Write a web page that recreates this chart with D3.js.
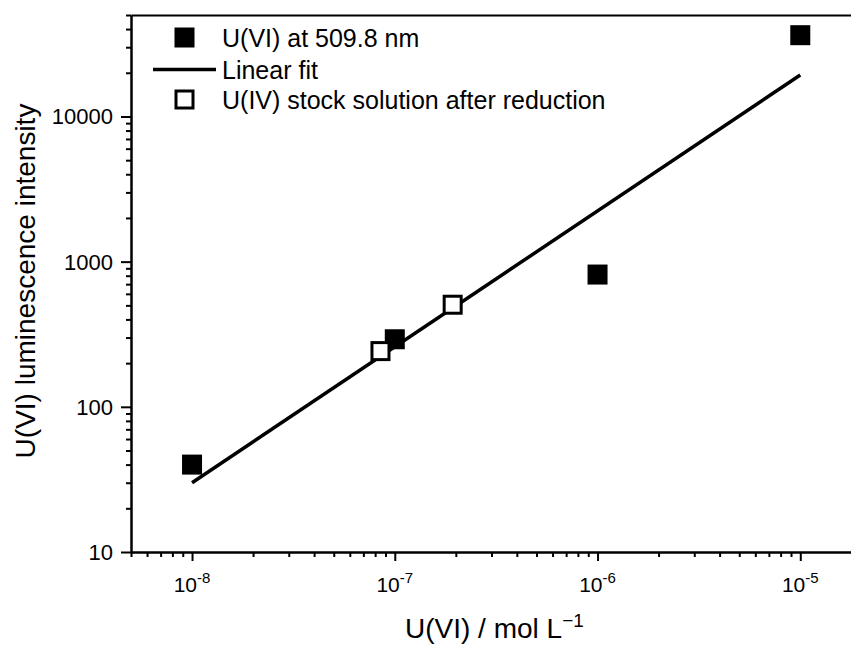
<!DOCTYPE html>
<html>
<head>
<meta charset="utf-8">
<script src="https://cdn.jsdelivr.net/npm/d3@7"></script>
<style>
  html, body { margin: 0; padding: 0; background: #fff; }
  svg { display: block; }
  text { font-family: "Liberation Sans", Arial, sans-serif; fill: #000; }
</style>
</head>
<body>
<svg id="chart" width="851" height="645"></svg>
<script>
// ---- Data ----
const filledX = [1e-8, 1e-7, 1e-6, 1e-5];
const filledY = [40, 292, 815, 36300];
const openX = [8.5e-8, 1.93e-7];
const openY = [242, 505];
const fitX = [1e-8, 1e-5];
const fitY = [30, 19300];
const xTickExps = [-8, -7, -6, -5];
const yTickValues = [10, 100, 1000, 10000];
const yTickLabels = ["10", "100", "1000", "10000"];
const legendLabels = ["U(VI) at 509.8 nm", "Linear fit", "U(IV) stock solution after reduction"];
const xTitle = "U(VI) / mol L";
const xTitleSup = "\u22121";
const yTitle = "U(VI) luminescence intensity";

(function () {
// ---- Layout ----
const svg = d3.select("#chart");
const pLeft = 131, pTop = 15, pBottom = 552, pRight = 942;
const x = d3.scaleLog().domain([5e-9, 5e-5]).range([pLeft, pRight]);
const y = d3.scaleLog().domain([10, 50000]).range([pBottom, pTop]);

// minor ticks
const xMinor = [];
for (let e = -9; e <= -5; e++) for (let m = 2; m <= 9; m++) {
  const v = m * Math.pow(10, e);
  if (v >= 5e-9 && v <= 5e-5) xMinor.push(v);
}
const yMinor = [];
for (let e = 1; e <= 4; e++) for (let m = 2; m <= 9; m++) {
  const v = m * Math.pow(10, e);
  if (v >= 10 && v <= 50000) yMinor.push(v);
}
const xMajor = xTickExps.map(e => Math.pow(10, e));

function styleAxis(g) {
  g.selectAll("path").attr("stroke", "#000").attr("stroke-width", 2);
  g.selectAll("line").attr("stroke", "#000").attr("stroke-width", 2);
  g.selectAll("text").remove();
}

// X axis
svg.append("g").attr("transform", `translate(0,${pBottom})`)
  .call(d3.axisBottom(x).tickValues(xMinor).tickSize(5).tickSizeOuter(0).tickFormat(""))
  .call(styleAxis);
svg.append("g").attr("transform", `translate(0,${pBottom})`)
  .call(d3.axisBottom(x).tickValues(xMajor).tickSize(9).tickSizeOuter(0).tickFormat(""))
  .call(styleAxis);

// Y axis
svg.append("g").attr("transform", `translate(${pLeft},0)`)
  .call(d3.axisLeft(y).tickValues(yMinor).tickSize(5).tickSizeOuter(0).tickFormat(""))
  .call(styleAxis);
svg.append("g").attr("transform", `translate(${pLeft},0)`)
  .call(d3.axisLeft(y).tickValues(yTickValues).tickSize(10).tickSizeOuter(0).tickFormat(""))
  .call(styleAxis);

// Top frame line
svg.append("g").attr("transform", `translate(0,${pTop})`)
  .call(d3.axisTop(x).tickValues([]).tickSizeOuter(0))
  .call(styleAxis);

// X tick labels
xTickExps.forEach(e => {
  const t = svg.append("text")
    .attr("x", x(Math.pow(10, e)))
    .attr("y", 592)
    .attr("text-anchor", "middle")
    .style("font-size", "21px");
  t.append("tspan").text("10");
  t.append("tspan").attr("dy", -9).style("font-size", "15px").text("-" + (-e));
});

// Y tick labels
yTickValues.forEach((v, i) => {
  svg.append("text")
    .attr("x", 113)
    .attr("y", y(v))
    .attr("dy", "0.36em")
    .attr("text-anchor", "end")
    .style("font-size", "22px")
    .text(yTickLabels[i]);
});

// Axis titles
const xt = svg.append("text")
  .attr("x", 405).attr("y", 638)
  .style("font-size", "28px");
xt.append("tspan").text(xTitle);
xt.append("tspan").attr("dy", -11).style("font-size", "19px").text(xTitleSup);

svg.append("text")
  .attr("transform", `translate(35,281) rotate(-90)`)
  .attr("text-anchor", "middle")
  .style("font-size", "28px")
  .text(yTitle);

// Fit line
const line = d3.line().x(d => x(d[0])).y(d => y(d[1]));
svg.append("path")
  .datum(d3.zip(fitX, fitY))
  .attr("d", line)
  .attr("fill", "none")
  .attr("stroke", "#000")
  .attr("stroke-width", 3.5);

// Filled squares
const sF = 20;
svg.selectAll("rect.filled")
  .data(d3.zip(filledX, filledY))
  .join("rect")
  .attr("class", "filled")
  .attr("x", d => x(d[0]) - sF / 2)
  .attr("y", d => y(d[1]) - sF / 2)
  .attr("width", sF).attr("height", sF)
  .attr("fill", "#000");

// Open squares
const sO = 17;
svg.selectAll("rect.open")
  .data(d3.zip(openX, openY))
  .join("rect")
  .attr("class", "open")
  .attr("x", d => x(d[0]) - sO / 2)
  .attr("y", d => y(d[1]) - sO / 2)
  .attr("width", sO).attr("height", sO)
  .attr("fill", "#fff")
  .attr("stroke", "#000")
  .attr("stroke-width", 3);

// Legend
const lgX = 184.5, txtX = 222;
const rowY = [37.5, 69.5, 99.5];
svg.append("rect").attr("x", lgX - sF / 2).attr("y", rowY[0] - sF / 2)
  .attr("width", sF).attr("height", sF).attr("fill", "#000");
svg.append("line").attr("x1", 153).attr("x2", 216).attr("y1", rowY[1]).attr("y2", rowY[1])
  .attr("stroke", "#000").attr("stroke-width", 3.5);
svg.append("rect").attr("x", lgX - sO / 2).attr("y", rowY[2] - sO / 2)
  .attr("width", sO).attr("height", sO)
  .attr("fill", "#fff").attr("stroke", "#000").attr("stroke-width", 3);
legendLabels.forEach((l, i) => {
  svg.append("text")
    .attr("x", txtX).attr("y", rowY[i] + 9)
    .style("font-size", "25px")
    .text(l);
});
})();
</script>
</body>
</html>
